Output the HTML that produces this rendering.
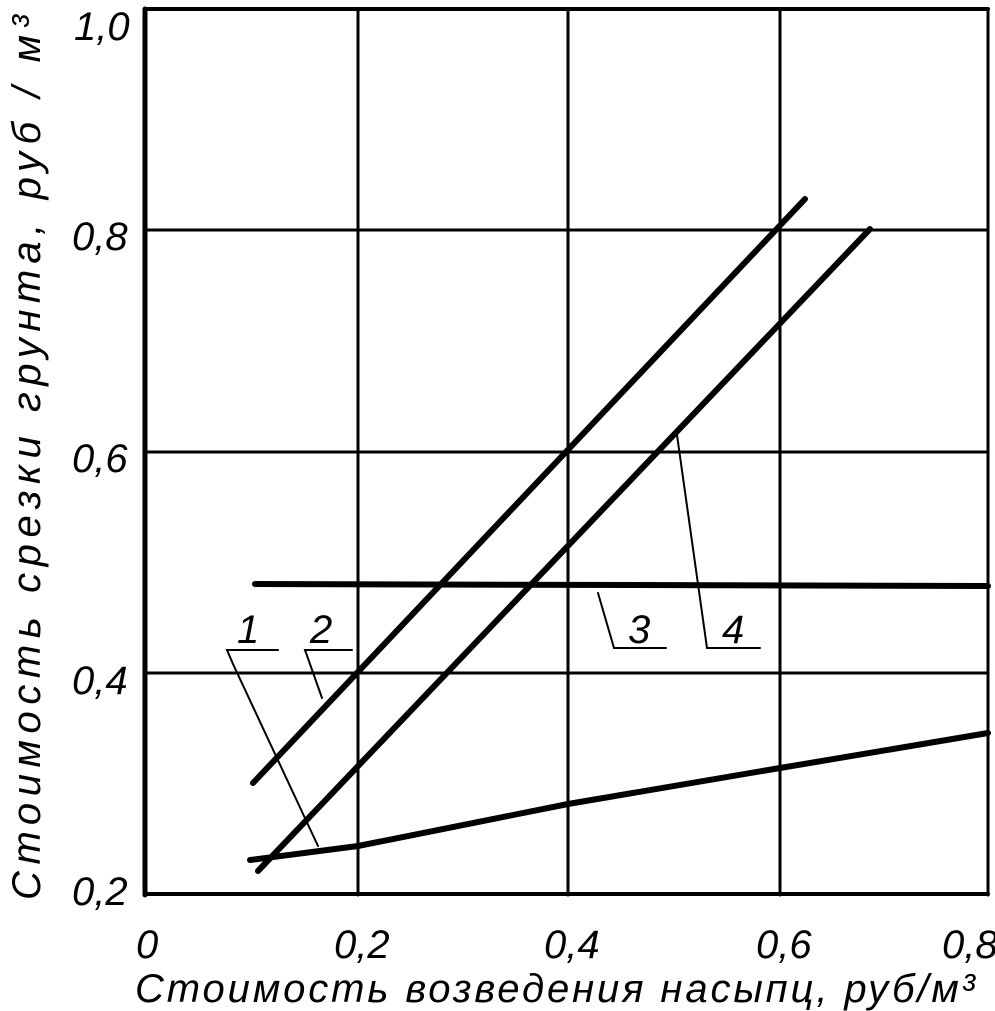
<!DOCTYPE html>
<html><head><meta charset="utf-8"><style>
html,body{margin:0;padding:0;background:#fff;}
svg{display:block;}
text{font-family:"Liberation Sans",sans-serif;font-style:italic;fill:#000;}
</style></head><body>
<svg width="995" height="1011" viewBox="0 0 995 1011" xmlns="http://www.w3.org/2000/svg">
<g stroke="#000" fill="none" stroke-linecap="round">
<line x1="358" y1="9" x2="358" y2="895" stroke-width="3"/>
<line x1="568" y1="9" x2="568" y2="895" stroke-width="3"/>
<line x1="780" y1="9" x2="780" y2="895" stroke-width="3"/>
<line x1="988" y1="9" x2="988" y2="895" stroke-width="3"/>
<line x1="145" y1="230" x2="988" y2="230" stroke-width="3"/>
<line x1="145" y1="452" x2="988" y2="452" stroke-width="3"/>
<line x1="145" y1="673" x2="988" y2="673" stroke-width="3"/>
<line x1="145" y1="9" x2="988" y2="9" stroke-width="4"/>
<line x1="145" y1="894" x2="988" y2="894" stroke-width="4"/>
<line x1="145" y1="9" x2="145" y2="895" stroke-width="5"/>
<line x1="253" y1="783" x2="805" y2="199" stroke-width="6"/>
<line x1="258" y1="871" x2="870" y2="229" stroke-width="6"/>
<line x1="255" y1="584" x2="988" y2="586" stroke-width="6"/>
<polyline points="250,860 358,846 568,804 780,768 988,733" stroke-width="6"/>
<polyline points="278,650 227,650 233,664 318,846" stroke-width="2"/>
<polyline points="352,650 305,650 322,698" stroke-width="2"/>
<polyline points="598,593 614,648 666,648" stroke-width="2"/>
<polyline points="677,435 707,648 760,648" stroke-width="2"/>
</g>
<g font-size="40">
<text x="237" y="643">1</text>
<text x="310" y="643">2</text>
<text x="628" y="643">3</text>
<text x="722" y="643">4</text>
<text x="74" y="40">1,0</text>
<text x="72" y="250">0,8</text>
<text x="72" y="472">0,6</text>
<text x="72" y="694">0,4</text>
<text x="72" y="905">0,2</text>
<text x="136" y="958">0</text>
<text x="334" y="958">0,2</text>
<text x="544" y="958">0,4</text>
<text x="756" y="958">0,6</text>
<text x="942" y="958">0,8</text>
<text x="135" y="1002" font-size="40" textLength="840" lengthAdjust="spacing">Стоимость возведения насыпц, руб/м³</text>
<text transform="translate(40,900) rotate(-90)" font-size="40" textLength="885" lengthAdjust="spacing">Стоимость срезки грунта,  руб / м³</text>
</g>
</svg>
</body></html>
